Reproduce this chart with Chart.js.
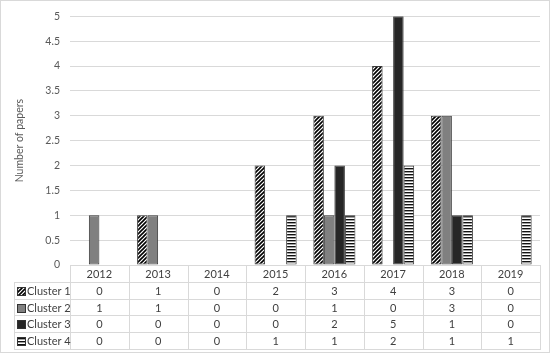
<!DOCTYPE html>
<html><head><meta charset="utf-8">
<script src="https://cdn.jsdelivr.net/npm/chart.js@4/dist/chart.umd.min.js"></script>
<style>
html,body{margin:0;padding:0;background:#fff;}
#wrap{position:relative;width:550px;height:353px;overflow:hidden;}
#frame{position:absolute;left:0;top:0;width:548px;height:351px;border:1px solid #d9d9d9;pointer-events:none;}
canvas#c{position:absolute;left:0;top:0;}
.ln{position:absolute;background:#d9d9d9;}
.tx{position:absolute;font-family:Lato,"Open Sans",sans-serif;font-size:11px;line-height:13px;color:#404040;text-align:center;white-space:nowrap;}
.lab{text-align:left;}
.ico{position:absolute;width:7px;height:7px;border:1px solid #333;}
</style></head>
<body>
<div id="wrap">
<canvas id="c" width="550" height="353"></canvas>
<div id="table"></div>
<div id="frame"></div>
</div>
<script>
const years = ['2012','2013','2014','2015','2016','2017','2018','2019'];
const seriesNames = ['Cluster 1','Cluster 2','Cluster 3','Cluster 4'];
const cluster1 = [0,1,0,2,3,4,3,0];
const cluster2 = [1,1,0,0,1,0,3,0];
const cluster3 = [0,0,0,0,2,5,1,0];
const cluster4 = [0,0,0,1,1,2,1,1];
const yTickValues = [0,0.5,1,1.5,2,2.5,3,3.5,4,4.5,5];
const yTitle = 'Number of papers';

function diagPattern(){
  const c=document.createElement('canvas'); c.width=4; c.height=4;
  const x=c.getContext('2d');
  x.fillStyle='#fff'; x.fillRect(0,0,4,4);
  x.strokeStyle='#000'; x.lineWidth=1.6;
  x.beginPath();
  x.moveTo(-1,5); x.lineTo(5,-1);
  x.moveTo(-1,1); x.lineTo(1,-1);
  x.moveTo(3,5); x.lineTo(5,3);
  x.stroke();
  return {pat:x.createPattern(c,'repeat'), url:c.toDataURL()};
}
function horizPattern(){
  const c=document.createElement('canvas'); c.width=4; c.height=3;
  const x=c.getContext('2d');
  x.fillStyle='#fff'; x.fillRect(0,0,4,3);
  x.fillStyle='#111'; x.fillRect(0,0,4,1.4);
  return {pat:x.createPattern(c,'repeat'), url:c.toDataURL()};
}
const p1=diagPattern(), p4=horizPattern();
const fills=[p1.pat,'#808080','#262626',p4.pat];
const iconCss=['background:url('+p1.url+')','background:#808080','background:#262626','background:url('+p4.url+')'];
const seriesData=[cluster1,cluster2,cluster3,cluster4];

const chart = new Chart(document.getElementById('c'), {
  type:'bar',
  data:{
    labels:years,
    datasets:seriesData.map((d,i)=>({
      label:seriesNames[i], data:d,
      backgroundColor:fills[i], borderColor:'#3a3a3a', borderWidth:1, borderSkipped:false,
      barPercentage:1, categoryPercentage:0.716
    }))
  },
  options:{
    responsive:false, animation:false, devicePixelRatio:1,
    layout:{padding:{left:0,right:10,top:11,bottom:88}},
    plugins:{legend:{display:false},tooltip:{enabled:false}},
    scales:{
      x:{display:false},
      y:{
        min:0,max:5,
        afterBuildTicks(s){ s.ticks = yTickValues.map(v=>({value:v})); },
        afterFit(s){ s.width=70; },
        ticks:{padding:10,color:'#595959',font:{family:'Lato',size:10.5},callback:v=>String(v)},
        grid:{color:'#d9d9d9',drawTicks:false},
        border:{display:false},
        title:{display:true,text:yTitle,color:'#595959',font:{family:'Lato',size:10.5},padding:{top:13,bottom:0}}
      }
    }
  }
});

// data table built from the chart's own x scale
(function(){
  const t=document.getElementById('table');
  const xs=chart.scales.x, ca=chart.chartArea;
  const n=years.length;
  const colW=(ca.right-ca.left)/n;
  const top=ca.bottom, rowH=16.8, labLeft=14;
  const bounds=[];
  for(let i=0;i<=n;i++) bounds.push(Math.round(ca.left+i*colW));
  let h='';
  for(let r=0;r<=5;r++){
    const y=Math.round(top+r*rowH);
    const x0 = r===0? bounds[0] : labLeft;
    h+=`<div class="ln" style="left:${x0}px;top:${y}px;width:${bounds[n]-x0+1}px;height:1px"></div>`;
  }
  h+=`<div class="ln" style="left:${labLeft}px;top:${Math.round(top+rowH)}px;width:1px;height:${Math.round(top+5*rowH)-Math.round(top+rowH)}px"></div>`;
  for(let i=0;i<=n;i++){
    h+=`<div class="ln" style="left:${bounds[i]}px;top:${Math.round(top)}px;width:1px;height:${Math.round(top+5*rowH)-Math.round(top)}px"></div>`;
  }
  for(let i=0;i<n;i++){
    const cx=xs.getPixelForValue(i);
    h+=`<div class="tx" style="left:${cx-30}px;width:60px;top:${top+2}px">${years[i]}</div>`;
  }
  for(let r=0;r<4;r++){
    const y=top+(r+1)*rowH;
    h+=`<div class="ico" style="left:17px;top:${Math.round(y+5)}px;${iconCss[r]}"></div>`;
    h+=`<div class="tx lab" style="left:27px;top:${y+2}px">${seriesNames[r]}</div>`;
    for(let i=0;i<n;i++){
      const cx=xs.getPixelForValue(i);
      h+=`<div class="tx" style="left:${cx-30}px;width:60px;top:${y+2}px">${seriesData[r][i]}</div>`;
    }
  }
  t.innerHTML=h;
})();
</script>
</body></html>
